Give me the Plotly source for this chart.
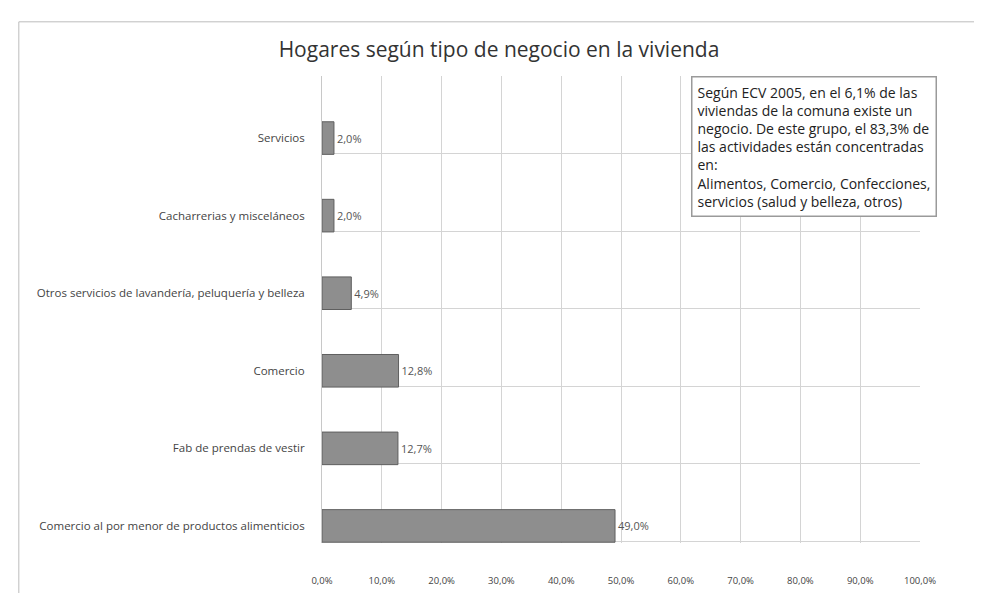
import plotly.graph_objects as go

categories = [
    "Servicios",
    "Cacharrerias y misceláneos",
    "Otros servicios de lavandería, peluquería y belleza",
    "Comercio",
    "Fab de prendas de vestir",
    "Comercio al por menor de productos alimenticios",
]
values = [0.020, 0.020, 0.049, 0.128, 0.127, 0.490]
value_labels = ["2,0%", "2,0%", "4,9%", "12,8%", "12,7%", "49,0%"]
x_ticks = [0, 0.1, 0.2, 0.3, 0.4, 0.5, 0.6, 0.7, 0.8, 0.9, 1.0]

positions = list(range(len(categories)))

fig = go.Figure()
fig.add_trace(go.Bar(
    x=values,
    y=positions,
    orientation="h",
    width=0.42,
    marker=dict(color="#8e8e8e", line=dict(color="#5f5f5f", width=1)),
    text=value_labels,
    textposition="outside",
    textfont=dict(family="Open Sans", size=11, color="#555555"),
    cliponaxis=False,
    hoverinfo="skip",
))

fig.update_layout(
    width=982,
    height=593,
    paper_bgcolor="white",
    plot_bgcolor="white",
    separators=",.",
    showlegend=False,
    margin=dict(l=314, r=70, t=68, b=58),
    title=dict(
        text="Hogares según tipo de negocio en la vivienda",
        x=0.5, xanchor="center",
        y=0.929, yanchor="middle",
        font=dict(family="Open Sans", size=21, color="#333333"),
    ),
    xaxis=dict(
        range=[0, 1.0],
        tickvals=x_ticks,
        tickformat=".1%",
        showgrid=True,
        gridcolor="#d4d4d4",
        zeroline=False,
        showline=False,
        tickfont=dict(family="Open Sans", size=9.5, color="#444444"),
        ticks="",
        ticklabelstandoff=30,
    ),
    yaxis=dict(
        range=[5.22, -0.80],
        tickvals=positions,
        ticktext=categories,
        showgrid=False,
        zeroline=False,
        showline=True,
        linecolor="#c8c8c8",
        tickfont=dict(family="Open Sans", size=11.5, color="#444444"),
        ticks="",
        ticklabelstandoff=14,
        minor=dict(
            tickmode="linear",
            tick0=0.2,
            dtick=1,
            showgrid=True,
            gridcolor="#d4d4d4",
        ),
    ),
)

fig.add_annotation(
    xref="paper", yref="paper",
    x=0.617, y=1.0, xanchor="left", yanchor="top",
    align="left",
    text=("Según ECV 2005, en el 6,1% de las<br>viviendas de la comuna existe un<br>"
          "negocio. De este grupo, el 83,3% de<br>las actividades están concentradas<br>"
          "en:<br>Alimentos, Comercio, Confecciones,<br>servicios (salud y belleza, otros)"),
    font=dict(family="Open Sans", size=14, color="#222222"),
    bgcolor="white",
    bordercolor="#9a9a9a",
    borderwidth=1.5,
    borderpad=5,
    showarrow=False,
)

# outer chart frame
for x0, y0, x1, y1 in [(-0.507, -0.124, -0.507, 1.116),
                       (-0.507, 1.116, 1.105, 1.116),
                       (1.105, -0.124, 1.105, 1.116)]:
    fig.add_shape(type="line", xref="paper", yref="paper",
                  x0=x0, y0=y0, x1=x1, y1=y1,
                  line=dict(color="#bdbdbd", width=1))

fig.write_html("out.html")
